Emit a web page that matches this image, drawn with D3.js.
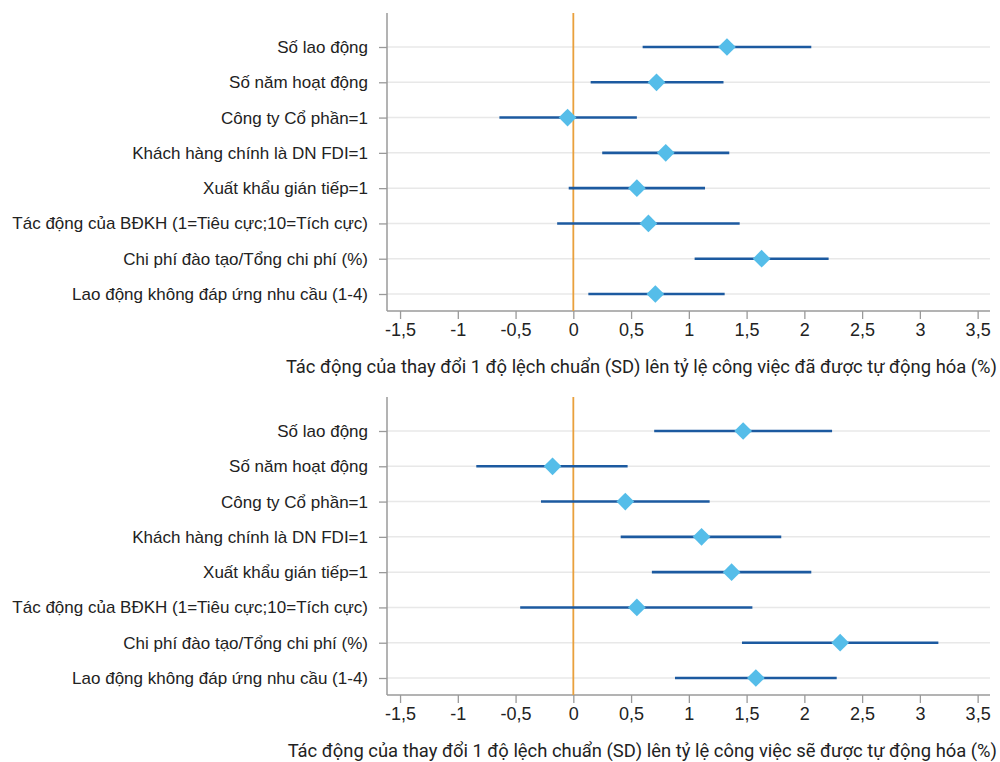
<!DOCTYPE html>
<html>
<head>
<meta charset="utf-8">
<script src="https://cdn.jsdelivr.net/npm/d3@7"></script>
<style>
  html, body { margin: 0; padding: 0; background: #fff; }
  svg { display: block; font-family: Roboto, "Noto Sans", sans-serif; }
</style>
</head>
<body>
<svg id="chart" width="1000" height="762"></svg>
<script>
const categories = [
  "Số lao động",
  "Số năm hoạt động",
  "Công ty Cổ phần=1",
  "Khách hàng chính là DN FDI=1",
  "Xuất khẩu gián tiếp=1",
  "Tác động của BĐKH (1=Tiêu cực;10=Tích cực)",
  "Chi phí đào tạo/Tổng chi phí (%)",
  "Lao động không đáp ứng nhu cầu (1-4)"
];

// Panel 1: jobs already automated
const estAutomated = [1.33, 0.72, -0.05, 0.80, 0.55, 0.65, 1.63, 0.71];
const lowAutomated = [0.60, 0.15, -0.64, 0.25, -0.04, -0.14, 1.05, 0.13];
const highAutomated = [2.06, 1.30, 0.55, 1.35, 1.14, 1.44, 2.21, 1.31];

// Panel 2: jobs to be automated
const estFuture = [1.47, -0.18, 0.45, 1.11, 1.37, 0.55, 2.31, 1.58];
const lowFuture = [0.70, -0.84, -0.28, 0.41, 0.68, -0.46, 1.46, 0.88];
const highFuture = [2.24, 0.47, 1.18, 1.80, 2.06, 1.55, 3.16, 2.28];

const tickValues = [-1.5, -1, -0.5, 0, 0.5, 1, 1.5, 2, 2.5, 3, 3.5];
const titles = [
  "Tác động của thay đổi 1 độ lệch chuẩn (SD) lên tỷ lệ công việc đã được tự động hóa (%)",
  "Tác động của thay đổi 1 độ lệch chuẩn (SD) lên tỷ lệ công việc sẽ được tự động hóa (%)"
];

const svg = d3.select("#chart");
const fmt = v => String(v).replace(".", ",");

const x = d3.scaleLinear().domain([-1.613, 3.607]).range([387, 990]);

function panel(top, est, low, high, title) {
  const plotTop = top, axisY = top + 298;
  const y = d3.scalePoint().domain(categories).range([top + 34, top + 281]);
  const g = svg.append("g");

  // gridlines
  g.selectAll("line.grid").data(categories).join("line")
    .attr("x1", 387).attr("x2", 990)
    .attr("y1", d => y(d)).attr("y2", d => y(d))
    .attr("stroke", "#e8e8e8").attr("stroke-width", 1.5);

  // y axis
  const yAxis = d3.axisLeft(y).tickSize(8).tickPadding(11);
  const ya = g.append("g").attr("transform", "translate(387,0)").call(yAxis);
  ya.select(".domain").remove();
  ya.selectAll(".tick line").attr("stroke", "#9a9a9a").attr("stroke-width", 1.3);
  ya.selectAll(".tick text").attr("fill", "#222").style("font-size", "17px");
  g.append("line").attr("x1", 387).attr("x2", 387).attr("y1", plotTop).attr("y2", axisY)
    .attr("stroke", "#9a9a9a").attr("stroke-width", 1.5);

  // x axis
  const xAxis = d3.axisBottom(x).tickValues(tickValues).tickFormat(fmt).tickSize(8).tickPadding(4);
  const xa = g.append("g").attr("transform", `translate(0,${axisY})`).call(xAxis);
  xa.select(".domain").attr("stroke", "#9a9a9a").attr("stroke-width", 1.5).attr("d", `M387,0H990`);
  xa.selectAll(".tick line").attr("stroke", "#9a9a9a").attr("stroke-width", 1.3);
  xa.selectAll(".tick text").attr("fill", "#222").style("font-size", "18px");

  // zero line
  g.append("line").attr("x1", x(0)).attr("x2", x(0)).attr("y1", plotTop).attr("y2", axisY)
    .attr("stroke", "#e9a03c").attr("stroke-width", 1.8);

  // CI lines
  g.selectAll("line.ci").data(categories).join("line")
    .attr("x1", (d, i) => x(low[i])).attr("x2", (d, i) => x(high[i]))
    .attr("y1", d => y(d)).attr("y2", d => y(d))
    .attr("stroke", "#1c5aa0").attr("stroke-width", 2.6);

  // diamonds
  const sym = d3.symbol().type(d3.symbolDiamond2).size(200);
  g.selectAll("path.pt").data(categories).join("path")
    .attr("d", sym)
    .attr("transform", (d, i) => `translate(${x(est[i])},${y(d)})`)
    .attr("fill", "#55bde9");

  // title
  g.append("text").attr("x", 997).attr("y", axisY + 62).attr("text-anchor", "end")
    .attr("fill", "#222").style("font-size", "18.4px").text(title);
}

panel(13, estAutomated, lowAutomated, highAutomated, titles[0]);
panel(397, estFuture, lowFuture, highFuture, titles[1]);
</script>
</body>
</html>
